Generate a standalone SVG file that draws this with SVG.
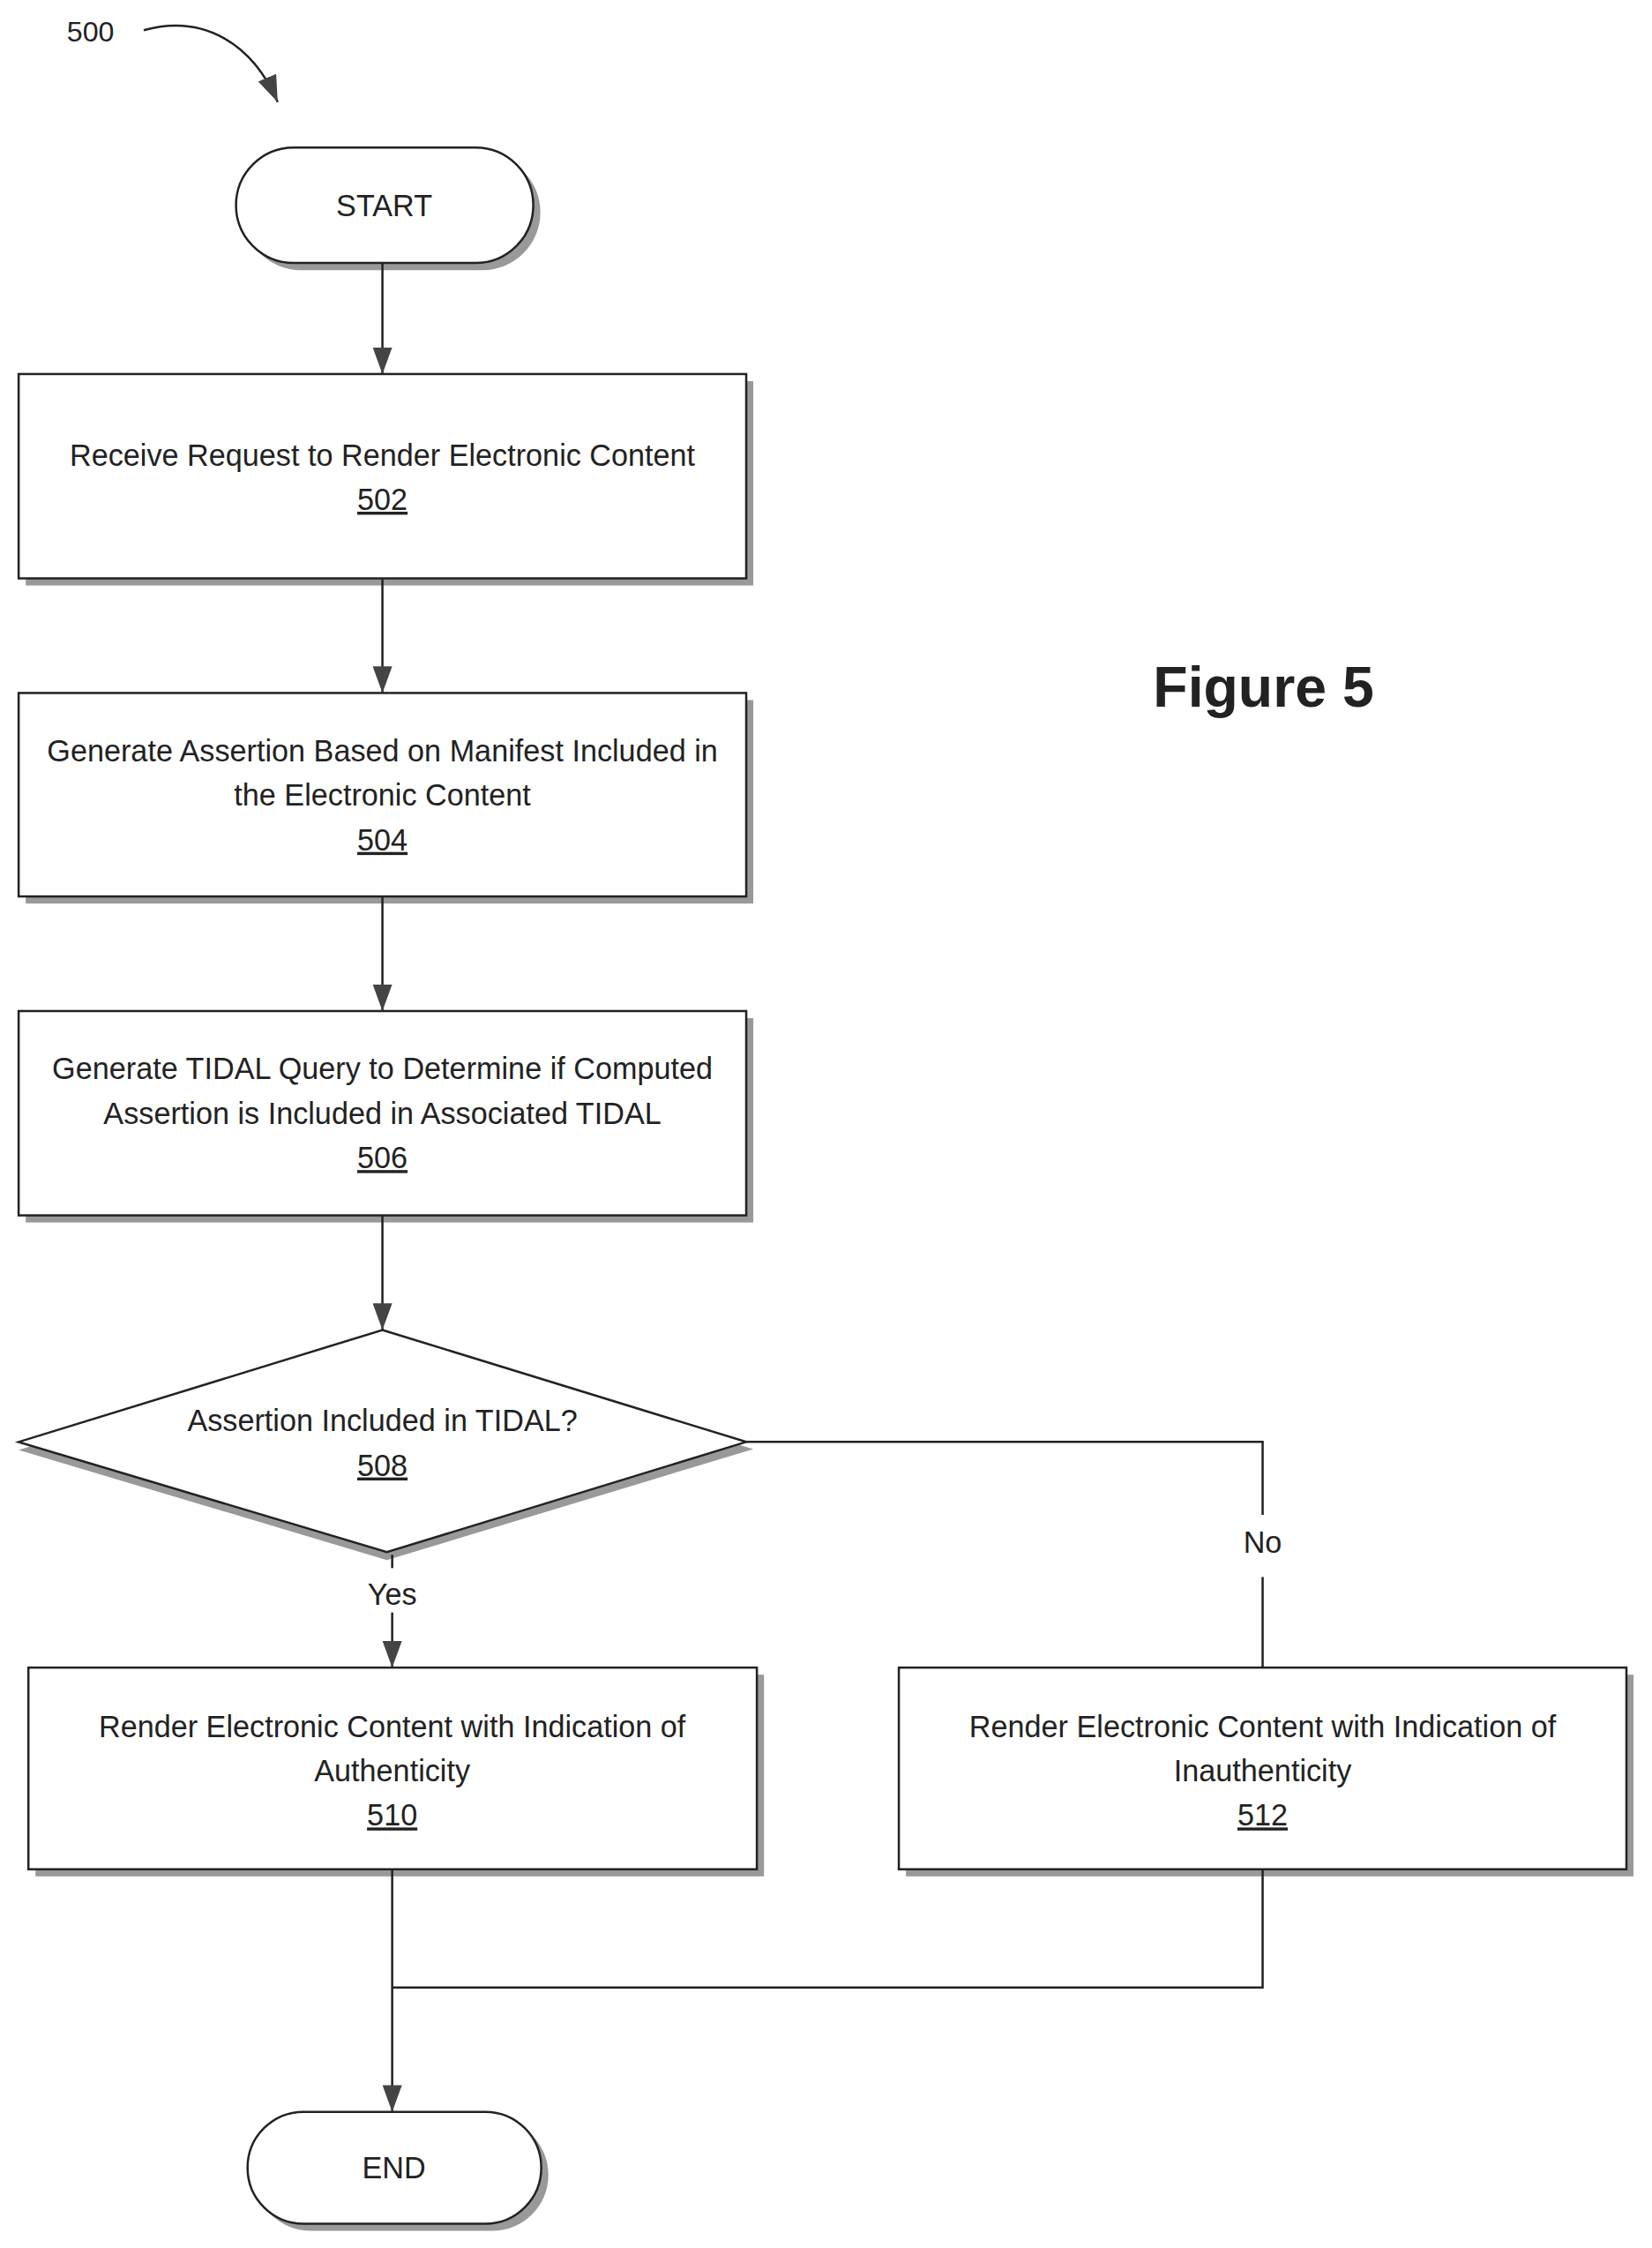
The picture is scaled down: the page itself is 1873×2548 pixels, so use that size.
<svg xmlns="http://www.w3.org/2000/svg" width="1873" height="2548" viewBox="0 0 1873 2548">
<defs>
<marker id="ab" markerWidth="30" markerHeight="22" refX="30" refY="11" orient="auto" markerUnits="userSpaceOnUse"><path d="M0,0 L30,11 L0,22 Z" fill="#444"/></marker>
</defs>
<style>
.sh{fill:#999;stroke:none}
.b{fill:#fff;stroke:#222;stroke-width:2.5}
.t{font-family:"Liberation Sans",Arial,sans-serif;font-size:34px;fill:#222;text-anchor:middle}
.c{fill:none;stroke:#222;stroke-width:2.5}
</style>
<rect width="1873" height="2548" fill="#fff"/>
<g transform="scale(1.006,1.007)">
<text x="102" y="47" class="t" style="font-size:32px">500</text>
<path d="M162,34 C230,15 285,50 313,115" class="c" marker-end="url(#ab)"/>
<g id="start">
<rect x="274" y="174" width="335" height="130" rx="65" class="sh"/>
<rect x="266" y="166" width="335" height="130" rx="65" class="b"/>
<text x="433" y="243" class="t">START</text>
</g>
<g id="n502">
<rect x="29" y="429" width="820" height="230" class="sh"/>
<rect x="21" y="421" width="820" height="230" class="b"/>
<text x="431" y="524" class="t">Receive Request to Render Electronic Content</text>
<text x="431" y="574" class="t" text-decoration="underline">502</text>
</g>
<g id="n504">
<rect x="29" y="788" width="820" height="229" class="sh"/>
<rect x="21" y="780" width="820" height="229" class="b"/>
<text x="431" y="857" class="t">Generate Assertion Based on Manifest Included in</text>
<text x="431" y="907" class="t">the Electronic Content</text>
<text x="431" y="957" class="t" text-decoration="underline">504</text>
</g>
<g id="n506">
<rect x="29" y="1146" width="820" height="230" class="sh"/>
<rect x="21" y="1138" width="820" height="230" class="b"/>
<text x="431" y="1215" class="t">Generate TIDAL Query to Determine if Computed</text>
<text x="431" y="1265" class="t">Assertion is Included in Associated TIDAL</text>
<text x="431" y="1315" class="t" text-decoration="underline">506</text>
</g>
<g id="n508">
<polygon points="431,1505 849,1631 436,1756 21,1632" class="sh"/>
<polygon points="431,1497 841,1623 436,1747 21,1623" class="b"/>
<text x="431" y="1611" class="t">Assertion Included in TIDAL?</text>
<text x="431" y="1661" class="t" text-decoration="underline">508</text>
</g>
<g id="n510">
<rect x="40" y="1885" width="821" height="227" class="sh"/>
<rect x="32" y="1877" width="821" height="227" class="b"/>
<text x="442" y="1955" class="t">Render Electronic Content with Indication of</text>
<text x="442" y="2005" class="t">Authenticity</text>
<text x="442" y="2055" class="t" text-decoration="underline">510</text>
</g>
<g id="n512">
<rect x="1021" y="1885" width="820" height="227" class="sh"/>
<rect x="1013" y="1877" width="820" height="227" class="b"/>
<text x="1423" y="1955" class="t">Render Electronic Content with Indication of</text>
<text x="1423" y="2005" class="t">Inauthenticity</text>
<text x="1423" y="2055" class="t" text-decoration="underline">512</text>
</g>
<g id="end">
<rect x="287" y="2385" width="331" height="126" rx="63" class="sh"/>
<rect x="279" y="2377" width="331" height="126" rx="63" class="b"/>
<text x="444" y="2452" class="t">END</text>
</g>
<text x="1424" y="795" style="font-family:'Liberation Sans',Arial,sans-serif;font-size:64px;font-weight:bold;fill:#222" text-anchor="middle">Figure 5</text>
<g id="connectors">
<line x1="431" y1="296" x2="431" y2="421" class="c" marker-end="url(#ab)"/>
<line x1="431" y1="651" x2="431" y2="780" class="c" marker-end="url(#ab)"/>
<line x1="431" y1="1009" x2="431" y2="1138" class="c" marker-end="url(#ab)"/>
<line x1="431" y1="1368" x2="431" y2="1497" class="c" marker-end="url(#ab)"/>
<line x1="442" y1="1750" x2="442" y2="1765" class="c"/>
<line x1="442" y1="1815" x2="442" y2="1877" class="c" marker-end="url(#ab)"/>
<text x="442" y="1806" class="t">Yes</text>
<polyline points="841,1623 1423,1623 1423,1705" class="c"/>
<line x1="1423" y1="1775" x2="1423" y2="1877" class="c"/>
<text x="1423" y="1748" class="t">No</text>
<line x1="442" y1="2104" x2="442" y2="2377" class="c" marker-end="url(#ab)"/>
<polyline points="1423,2104 1423,2237 442,2237" class="c"/>
</g>
</g>
</svg>
